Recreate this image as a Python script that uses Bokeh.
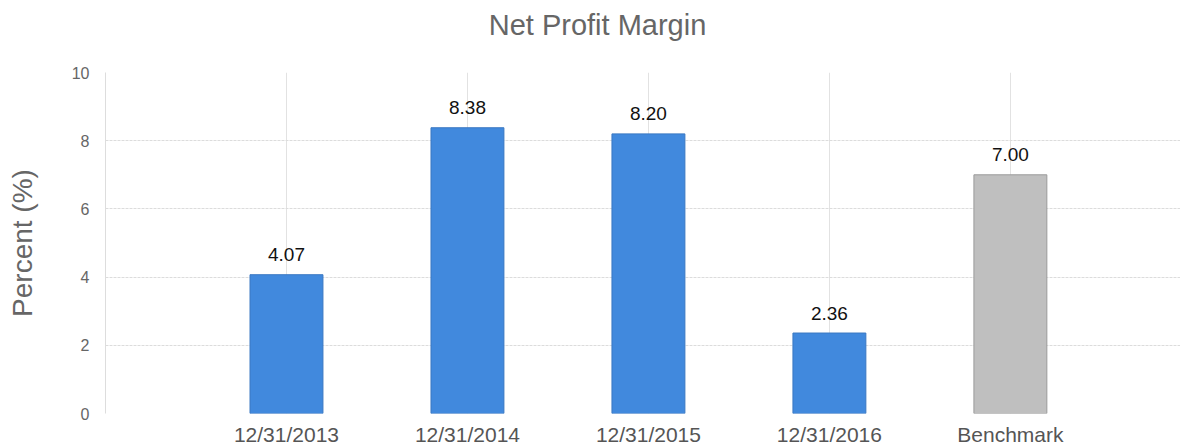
from bokeh.plotting import figure
from bokeh.layouts import column
from bokeh.models import FixedTicker, ColumnDataSource, Range1d
from bokeh.embed import file_html
from bokeh.resources import INLINE
from bokeh.core.properties import value

# ---- data ----
title_text = "Net Profit Margin"
categories = ["12/31/2013", "12/31/2014", "12/31/2015", "12/31/2016", "Benchmark"]
margins = [4.07, 8.38, 8.20, 2.36, 7.00]
y_ticks = [0, 2, 4, 6, 8, 10]

# ---- styles / layout ----
FONT = "Liberation Sans"
fill_colors = ["#4189DD"] * 4 + ["#BFBFBF"]
line_colors = ["#3A78C2"] * 4 + ["#9A9A9A"]
W = 1180
LEFT = 105
TITLE_H = 64

xs = list(range(len(categories)))
src = ColumnDataSource(dict(
    x=xs, top=margins,
    label=["%.2f" % v for v in margins],
    fill=fill_colors, line=line_colors,
))

# ---- title strip (its frame is aligned with the chart frame: pixels LEFT..W) ----
t = figure(width=W, height=TITLE_H, output_backend="svg", toolbar_location=None,
           x_range=Range1d(LEFT, W), y_range=Range1d(0, TITLE_H),
           x_axis_type=None, y_axis_type=None, outline_line_color=None,
           min_border=0)
t.grid.visible = False
t.text(x=[597], y=[TITLE_H - 24], text=[title_text], text_align="center",
       text_baseline="alphabetic", text_font=value(FONT),
       text_font_size="29px", text_color="#666666")

# ---- main chart ----
p = figure(width=W, height=448 - TITLE_H, output_backend="svg",
           toolbar_location=None,
           x_range=Range1d(-1.0, 4.94), y_range=Range1d(0, 10),
           min_border_left=LEFT, min_border_right=0, min_border_top=8,
           min_border_bottom=33, outline_line_color=None)

p.vbar(x="x", top="top", width=0.403, source=src, fill_color="fill",
       line_color="line", line_width=1)

p.text(x="x", y="top", text="label", source=src, text_align="center",
       text_baseline="alphabetic", y_offset=-20, text_font=value(FONT),
       text_font_size="19px", text_color="#111111")

# x axis
p.xaxis.ticker = FixedTicker(ticks=xs)
p.xaxis.major_label_overrides = {i: c for i, c in enumerate(categories)}
p.xaxis.axis_line_color = None
p.xaxis.major_tick_line_color = None
p.xaxis.minor_tick_line_color = None
p.xaxis.major_tick_out = 0
p.xaxis.major_label_standoff = 9
p.xaxis.major_label_text_font = FONT
p.xaxis.major_label_text_font_size = "21px"
p.xaxis.major_label_text_color = "#555555"

# y axis
p.yaxis.ticker = FixedTicker(ticks=y_ticks)
p.yaxis.axis_label = "Percent (%)"
p.yaxis.axis_label_text_font = FONT
p.yaxis.axis_label_text_font_size = "28px"
p.yaxis.axis_label_text_font_style = "normal"
p.yaxis.axis_label_text_color = "#666666"
p.yaxis.axis_label_standoff = 31
p.yaxis.axis_line_color = "#dddddd"
p.yaxis.major_tick_line_color = None
p.yaxis.minor_tick_line_color = None
p.yaxis.major_tick_out = 0
p.yaxis.major_label_standoff = 16
p.yaxis.major_label_text_font = FONT
p.yaxis.major_label_text_font_size = "16px"
p.yaxis.major_label_text_color = "#666666"

# grids
p.xgrid.ticker = FixedTicker(ticks=xs)
p.xgrid.grid_line_color = "#e2e2e2"
p.xgrid.grid_line_width = 1
p.ygrid.ticker = FixedTicker(ticks=y_ticks)
p.ygrid.grid_line_color = "#dcdcdc"
p.ygrid.grid_line_dash = "3 1"

layout = column(t, p, spacing=0)
open("out.html", "w").write(file_html(layout, INLINE))
